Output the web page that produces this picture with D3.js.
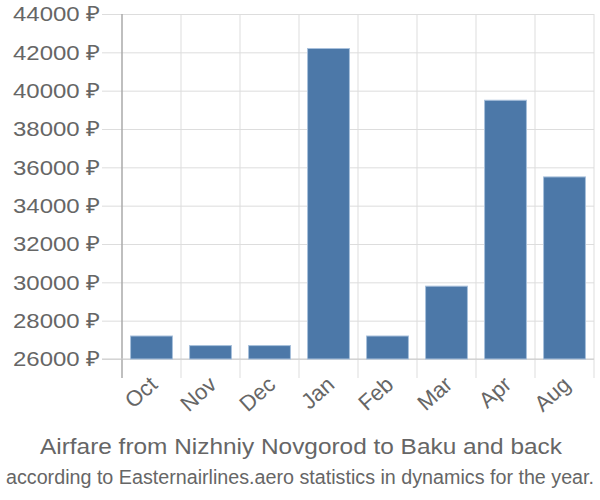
<!DOCTYPE html>
<html><head><meta charset="utf-8">
<script src="https://cdn.jsdelivr.net/npm/d3@7"></script>
<style>body{margin:0;background:#fff}svg{display:block}text{font-family:"Liberation Sans",Arial,sans-serif;fill:#666}</style>
</head><body><svg id="c" width="600" height="500"></svg>
<script>
const categories = ["Oct","Nov","Dec","Jan","Feb","Mar","Apr","Aug"];
const values = [27200, 26700, 26700, 42200, 27200, 29800, 39500, 35500];
const yTicks = [26000,28000,30000,32000,34000,36000,38000,40000,42000,44000];
const title = "Airfare from Nizhniy Novgorod to Baku and back";
const subtitle = "according to Easternairlines.aero statistics in dynamics for the year.";

const svg = d3.select("#c");
const L = 122, R = 594, T = 14, B = 359;
const x = d3.scaleBand().domain(categories).range([L, R]).paddingInner(0.29).paddingOuter(0.145);
const y = d3.scaleLinear().domain([26000, 44000]).range([B, T]);

// horizontal gridlines with left ticks
const gy = svg.append("g").attr("transform", `translate(${L},0)`)
  .call(d3.axisLeft(y).tickValues(yTicks).tickSize(20).tickPadding(2).tickFormat(d => d + " ₽"));
gy.select(".domain").remove();
gy.selectAll(".tick line").attr("stroke", "#ddd").attr("stroke-width", 1);
gy.selectAll(".tick").append("line").attr("x1", 0).attr("x2", R - L).attr("stroke", "#ddd");
gy.selectAll("text").style("font-size", "21px").attr("fill", "#666").attr("textLength", 87).attr("lengthAdjust", "spacingAndGlyphs");

// vertical gridlines
const bounds = categories.map(c => x(c) - x.step() * x.paddingInner() / 2);
bounds.push(R);
svg.append("g").selectAll("line").data(bounds).join("line")
  .attr("x1", d => d).attr("x2", d => d).attr("y1", T).attr("y2", B + 19)
  .attr("stroke", (d, i) => i === 0 ? "#aaa" : "#ddd").attr("stroke-width", (d,i)=> i===0?1.5:1);

// bottom axis line
svg.append("line").attr("x1", L - 20).attr("x2", R).attr("y1", B).attr("y2", B).attr("stroke", "#ccc");

// bars
svg.append("g").selectAll("rect").data(values).join("rect")
  .attr("x", (d, i) => x(categories[i]))
  .attr("width", x.bandwidth())
  .attr("y", d => y(d))
  .attr("height", d => y(26000) - y(d))
  .attr("fill", "#4c78a8")
  .attr("stroke", "#a8c0dc").attr("stroke-width", 1);

// x labels
svg.append("g").selectAll("text").data(categories).join("text")
  .attr("transform", d => `translate(${x(d) + x.bandwidth()/2 - 3},${B + 16}) rotate(-42)`)
  .attr("text-anchor", "end").attr("dy", "0.7em")
  .style("font-size", "22px").text(d => d);

svg.append("text").attr("x", 301).attr("y", 454).attr("text-anchor", "middle")
  .attr("textLength", 522).attr("lengthAdjust", "spacingAndGlyphs")
  .style("font-size", "22px").text(title);
svg.append("text").attr("x", 300).attr("y", 484).attr("text-anchor", "middle")
  .attr("textLength", 588).attr("lengthAdjust", "spacingAndGlyphs")
  .style("font-size", "19.5px").text(subtitle);
</script></body></html>
